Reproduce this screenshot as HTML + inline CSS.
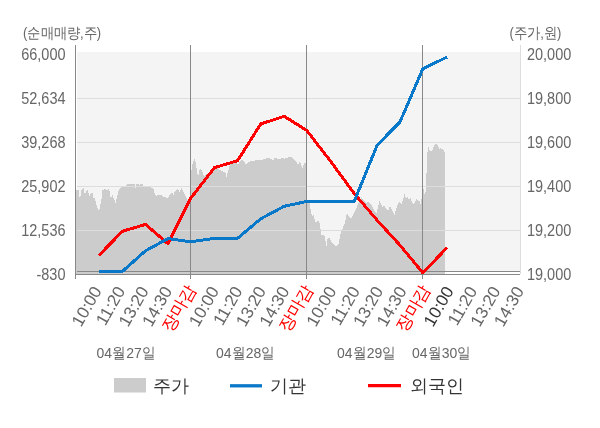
<!DOCTYPE html>
<html><head><meta charset="utf-8">
<style>
html,body{margin:0;padding:0;background:#fff;}
svg{display:block;will-change:transform;}
text{font-family:"Liberation Sans",sans-serif;}
.yl{font-size:14.5px;fill:#666;}
.xl{font-size:17px;fill:#666;text-anchor:end;}
.xr{font-size:17px;fill:#f00;text-anchor:end;}
.xd{font-size:17px;fill:#333;text-anchor:end;}
.ut{font-size:13px;fill:#666;}
.dt{font-size:14px;fill:#666;}
.lg{font-size:18px;fill:#333;}
</style></head>
<body>
<svg width="600" height="428" viewBox="0 0 600 428">
<rect x="0" y="0" width="600" height="428" fill="#fff"/>
<text class="ut" x="23" y="37" transform="matrix(1 0 0 1.12 0 -3.9)">(순매매량,주)</text>
<text class="ut" x="509.5" y="37" transform="matrix(1 0 0 1.12 0 -3.9)">(주가,원)</text>
<rect x="77" y="52" width="443" height="219" fill="#f4f4f4"/>
<polygon points="76,274 76,190 79,190 79.5,196.5 80.5,196.5 81,191 83,188 84,188 84.5,193 86,193 87,190 88,190 89,195.5 90,195.5 91,193 92.5,193 93,198 95,198 96,204 99,211.5 101.5,199 102.5,190 104,189.3 106,189.5 108,190 109,188 110,193.7 111,199.8 112,193.7 113,196.5 115.5,203 117,197.4 118.5,190.9 120,188.5 122,187 124,186.7 126,185.7 128,183.9 130,183.4 132,184.3 134.5,183.9 135.5,188 136.5,184 140,184.8 142,183.4 143.5,186.4 149,187 151,187.5 153,187.5 154.5,193.4 156,196.3 158,194.5 161,194.5 163.5,196.9 166,197.5 168,197.5 170,194 172,192.2 173.5,195 175,191 177.5,188.7 179.5,191.6 181.5,188.1 183.5,191.6 185,195.5 187,199 189,202 190.5,202 191,174 192,166 193.5,161.5 194.5,159.2 195.5,162.4 197,170.8 198,177.4 199,171.8 200,168 202,170.5 203,173.6 204,176 210,172 217,168.2 220,170 223,171.5 225.5,173 226.5,177 228,171.5 230,164 233,161.7 236,162.5 238,164.8 240,161.5 242,159.6 244,161.5 246,164.8 248,162.4 250,161.5 253,161 256,160 259,159.6 262,159.6 265,159.2 268,157.5 270,158.2 272,159.6 273,160.6 275,157.3 277,158.7 280,159.2 282,157.8 284,158.7 286,158.2 289,157.3 292,157.3 294.5,160 296.5,162.4 298,165.2 299.5,161.5 301,164.3 302.5,168 303.5,165 305,162.4 306.5,165 307,174 307.5,203 309.5,203 310.1,207 311.3,214 312.4,216.4 313.3,214 314.2,217.5 315.4,221.6 317.1,221.6 318.3,221 319.5,223.4 320.6,229.8 321.2,234.5 323,235 324.1,234 325.3,239.8 326.5,246.2 327.6,238.6 330,238 330.6,240.4 332.3,242.7 334.1,245 335.8,246.8 337.6,245 338.7,243.3 339.9,237.4 341.1,231.6 342.8,228.7 344,224.6 345.2,222.8 346,215 347.5,214 349,216.3 351,218.6 353,214.5 355,211 357,206.4 359,201.7 361,198.2 363,199.3 366,202.9 368,201.7 370,203.4 372,205.2 374,210.4 375,211.9 376.5,213 378,207.2 379.5,201.4 381,204.3 382.5,207.2 384,205.4 385.5,207.8 387,209.5 388.5,210 390,206 391,207.8 392.5,211.3 394.5,214.8 396,209.5 398,203.7 400,202 401.5,203.7 403,199.6 404.5,194.3 406,199 407.5,197.3 409,199.6 410.5,197.9 412,202.5 413.5,203.7 415,202.5 416.5,199 418,200.2 419.5,201.4 420,204 421,203.7 422.5,190 423,187.3 424,191 425,196.7 426,187.3 427,159 428,146 429,148.5 430,150.6 431,151 432,150.3 433,150.6 433.5,147 434.5,144.7 436,144.3 437.5,144.7 438.5,147.1 439.5,148.5 441,148.2 442.5,149.2 443.5,150.3 444.5,151.7 445,152 445,274" fill="#cccccc" shape-rendering="crispEdges"/>
<g stroke="#dddddd" stroke-width="1" shape-rendering="crispEdges">
<line x1="77" y1="98.5" x2="520" y2="98.5"/>
<line x1="77" y1="142.5" x2="520" y2="142.5"/>
<line x1="77" y1="186.5" x2="520" y2="186.5"/>
<line x1="77" y1="230.5" x2="520" y2="230.5"/>
<line x1="520.5" y1="45" x2="520.5" y2="274"/>
</g>
<g stroke="#888" stroke-width="1" shape-rendering="crispEdges">
<line x1="77" y1="271.5" x2="520" y2="271.5"/>
<line x1="75" y1="274.5" x2="520" y2="274.5"/>
<line x1="75.5" y1="45" x2="75.5" y2="279"/>
<line x1="190.5" y1="45" x2="190.5" y2="279"/>
<line x1="306.5" y1="45" x2="306.5" y2="279"/>
<line x1="422.5" y1="45" x2="422.5" y2="279"/>
</g>
<polyline points="99,255.3 122.4,231.3 145.5,224.4 168,243.8 190.6,198.4 214.5,167.6 237.6,160.7 260.7,124 284.2,116.3 306.7,130.4 330,160.5 354.2,193.5 377.2,220.3 400,245.2 422.8,272.8 447.2,247.5" fill="none" stroke="#ff0000" stroke-width="3" stroke-linejoin="round" shape-rendering="crispEdges"/>
<polyline points="99,271.4 122.4,271.4 145.5,250.8 168,238.6 190.6,241.8 214.5,238.3 237.6,238.3 260.7,218.8 284.2,206.3 306.7,201.5 330,201.5 354.2,201.5 377.2,145.1 400,121.9 422.8,68.8 447.2,57" fill="none" stroke="#0a78c8" stroke-width="3" stroke-linejoin="round" shape-rendering="crispEdges"/>
<text class="yl" x="65.5" y="59.3" text-anchor="end" transform="matrix(1 0 0 1.12 0 -6.52)">66,000</text>
<text class="yl" x="65.5" y="103.3" text-anchor="end" transform="matrix(1 0 0 1.12 0 -11.80)">52,634</text>
<text class="yl" x="65.5" y="147.3" text-anchor="end" transform="matrix(1 0 0 1.12 0 -17.08)">39,268</text>
<text class="yl" x="65.5" y="191.3" text-anchor="end" transform="matrix(1 0 0 1.12 0 -22.36)">25,902</text>
<text class="yl" x="65.5" y="235.3" text-anchor="end" transform="matrix(1 0 0 1.12 0 -27.64)">12,536</text>
<text class="yl" x="65.5" y="279.3" text-anchor="end" transform="matrix(1 0 0 1.12 0 -32.92)">-830</text>
<text class="yl" x="527" y="59.3" transform="matrix(1 0 0 1.12 0 -6.52)">20,000</text>
<text class="yl" x="527" y="103.3" transform="matrix(1 0 0 1.12 0 -11.80)">19,800</text>
<text class="yl" x="527" y="147.3" transform="matrix(1 0 0 1.12 0 -17.08)">19,600</text>
<text class="yl" x="527" y="191.3" transform="matrix(1 0 0 1.12 0 -22.36)">19,400</text>
<text class="yl" x="527" y="235.3" transform="matrix(1 0 0 1.12 0 -27.64)">19,200</text>
<text class="yl" x="527" y="279.3" transform="matrix(1 0 0 1.12 0 -32.92)">19,000</text>
<text class="xl" transform="translate(102.3,290.8) rotate(-60)">10:00</text>
<text class="xl" transform="translate(125.8,290.8) rotate(-60)">11:20</text>
<text class="xl" transform="translate(149.2,290.8) rotate(-60)">13:20</text>
<text class="xl" transform="translate(172.7,290.8) rotate(-60)">14:30</text>
<text class="xr" transform="translate(196.1,288.8) rotate(-60)">장마감</text>
<text class="xl" transform="translate(219.6,290.8) rotate(-60)">10:00</text>
<text class="xl" transform="translate(243.1,290.8) rotate(-60)">11:20</text>
<text class="xl" transform="translate(266.5,290.8) rotate(-60)">13:20</text>
<text class="xl" transform="translate(290.0,290.8) rotate(-60)">14:30</text>
<text class="xr" transform="translate(313.4,288.8) rotate(-60)">장마감</text>
<text class="xl" transform="translate(336.9,290.8) rotate(-60)">10:00</text>
<text class="xl" transform="translate(360.4,290.8) rotate(-60)">11:20</text>
<text class="xl" transform="translate(383.8,290.8) rotate(-60)">13:20</text>
<text class="xl" transform="translate(407.3,290.8) rotate(-60)">14:30</text>
<text class="xr" transform="translate(430.7,288.8) rotate(-60)">장마감</text>
<text class="xd" transform="translate(454.2,290.8) rotate(-60)">10:00</text>
<text class="xl" transform="translate(477.7,290.8) rotate(-60)">11:20</text>
<text class="xl" transform="translate(501.1,290.8) rotate(-60)">13:20</text>
<text class="xl" transform="translate(524.6,290.8) rotate(-60)">14:30</text>
<text class="dt" x="96.5" y="358" transform="matrix(1 0 0 1.1 0 -35.3)">04월27일</text>
<text class="dt" x="216" y="358" transform="matrix(1 0 0 1.1 0 -35.3)">04월28일</text>
<text class="dt" x="337" y="358" transform="matrix(1 0 0 1.1 0 -35.3)">04월29일</text>
<text class="dt" x="412" y="358" transform="matrix(1 0 0 1.1 0 -35.3)">04월30일</text>
<rect x="114" y="378" width="32" height="14.5" fill="#cccccc"/>
<text class="lg" x="152.5" y="392">주가</text>
<line x1="230" y1="385.8" x2="262" y2="385.8" stroke="#0a78c8" stroke-width="3.3"/>
<text class="lg" x="270" y="392">기관</text>
<line x1="368" y1="385.6" x2="401" y2="385.6" stroke="#ff0000" stroke-width="3.3"/>
<text class="lg" x="410" y="392">외국인</text>
</svg>
</body></html>
